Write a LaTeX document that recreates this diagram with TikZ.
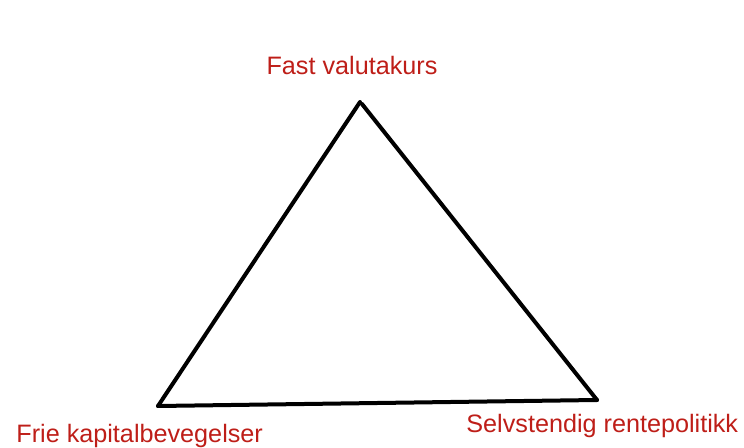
\documentclass[tikz,border=0pt]{standalone}
\usepackage{fontspec}
\setmainfont{Liberation Sans}
\definecolor{labelred}{RGB}{190,30,24}
\begin{document}
\begin{tikzpicture}[
    x=0.5pt, y=-0.5pt,
    corner/.style={
      text=labelred,
      font=\fontsize{12.6}{15}\selectfont,
      inner sep=0pt
    },
    side/.style={
      line width=2pt,
      line cap=round
    }
  ]
    \useasboundingbox (0,0) rectangle (744,448);
    % corners of the triangle
    \coordinate (apex) at (360,102);
    \coordinate (apexr) at (362,104);
    \coordinate (left) at (158,406);
    \coordinate (right) at (597,400);
    \draw[side] (left) -- (apex);
    \draw[side] (apexr) -- (right);
    \draw[side] (left) -- (right);
    % labels
    \node[corner,anchor=base] (fixed) at (352,75) {Fast valutakurs};
    \node[corner,anchor=base west] (capital) at (16,443) {Frie kapitalbevegelser};
    \node[corner,anchor=base west] (policy) at (466,433) {Selvstendig rentepolitikk};
  \end{tikzpicture}
\end{document}
